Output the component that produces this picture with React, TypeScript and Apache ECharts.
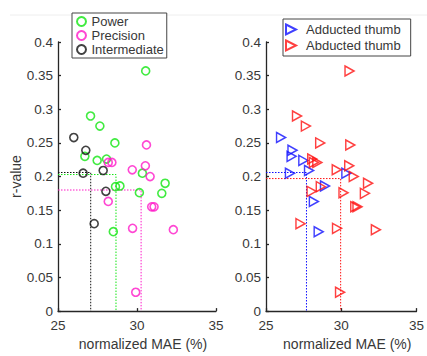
import React, { useEffect, useRef } from "react";
import * as echarts from "echarts";

// normalized MAE (%) for each subject/condition
const maeValues = [
  30.55, 27.06, 27.65, 28.6, 26.7, 27.48, 28.07, 30.34, 31.78, 28.64, 28.92, 30.15, 31.57, 28.5,
  30.6, 28.18, 28.41, 29.7, 30.53, 30.83, 28.18, 30.93, 31.08, 29.72, 32.3, 29.92,
  26.0, 26.76, 27.86, 26.59, 28.03, 27.29,
];
// r-values
const rValues = [
  0.357, 0.29, 0.275, 0.25, 0.23, 0.224, 0.226, 0.205, 0.19, 0.185, 0.186, 0.176, 0.175, 0.118,
  0.247, 0.221, 0.221, 0.21, 0.216, 0.2, 0.163, 0.155, 0.155, 0.123, 0.121, 0.028,
  0.258, 0.239, 0.209, 0.205, 0.178, 0.13,
];
// grip type of each point
const gripTypes = [
  "Power", "Power", "Power", "Power", "Power", "Power", "Power", "Power", "Power", "Power", "Power", "Power", "Power", "Power",
  "Precision", "Precision", "Precision", "Precision", "Precision", "Precision", "Precision", "Precision", "Precision", "Precision", "Precision", "Precision",
  "Intermediate", "Intermediate", "Intermediate", "Intermediate", "Intermediate", "Intermediate",
];
// thumb position of each point
const thumbTypes = [
  "Abducted thumb", "Abducted thumb", "Abducted thumb", "Abducted thumb", "Adducted thumb", "Adducted thumb", "Abducted thumb", "Adducted thumb", "Abducted thumb", "Abducted thumb", "Adducted thumb", "Abducted thumb", "Abducted thumb", "Adducted thumb",
  "Abducted thumb", "Abducted thumb", "Abducted thumb", "Abducted thumb", "Abducted thumb", "Abducted thumb", "Adducted thumb", "Abducted thumb", "Abducted thumb", "Abducted thumb", "Abducted thumb", "Abducted thumb",
  "Adducted thumb", "Adducted thumb", "Adducted thumb", "Adducted thumb", "Abducted thumb", "Abducted thumb",
];

const gripNames = ["Power", "Precision", "Intermediate"];
const gripColors = ["#12e612", "#ff19c8", "#111111"];
const gripMeanMae = [28.67, 30.26, 27.07];
const gripMeanR = [0.203, 0.18, 0.206];

const thumbNames = ["Adducted thumb", "Abducted thumb"];
const thumbColors = ["#1010ff", "#ff1010"];
const thumbMeanMae = [27.69, 29.96];
const thumbMeanR = [0.206, 0.197];

const xTicks = [25, 30, 35];
const yMax = 0.4;

const FONT = "Liberation Sans, Arial, sans-serif";
const TEXT = "#383838";
const AXIS = "#262626";
const TRI = "path://M0,0L10,5L0,10Z";

export default function App() {
  const ref = useRef<HTMLDivElement>(null);
  useEffect(() => {
    if (!ref.current) return;
    const chart = echarts.init(ref.current, undefined, { renderer: "svg" });

    const pts = (filter: (i: number) => boolean) =>
      maeValues.map((x, i) => [x, rValues[i]]).filter((_, i) => filter(i));

    const xAxisBase = (gridIndex: number) => ({
      gridIndex,
      type: "value",
      min: xTicks[0],
      max: xTicks[xTicks.length - 1],
      interval: 5,
      name: "normalized MAE (%)",
      nameLocation: "middle",
      nameGap: 20,
      nameTextStyle: { fontSize: 14, color: TEXT, fontFamily: FONT, padding: [0, 0, 0, 12] },
      axisLine: { show: true, onZero: false, lineStyle: { color: AXIS, width: 1.3 } },
      axisTick: { show: true, inside: true, length: 3, lineStyle: { color: AXIS, width: 1.3 } },
      axisLabel: { fontSize: 13.5, color: TEXT, fontFamily: FONT, margin: 7 },
      splitLine: { show: false },
    });
    const yAxisBase = (gridIndex: number, withName: boolean) => ({
      gridIndex,
      type: "value",
      min: 0,
      max: yMax,
      interval: 0.05,
      name: withName ? "r-value" : "",
      nameLocation: "middle",
      nameGap: 34,
      nameTextStyle: { fontSize: 14, color: TEXT, fontFamily: FONT },
      axisLine: { show: true, onZero: false, lineStyle: { color: AXIS, width: 1.3 } },
      axisTick: { show: true, inside: true, length: 3, lineStyle: { color: AXIS, width: 1.3 } },
      axisLabel: { fontSize: 13.5, color: TEXT, fontFamily: FONT, margin: 5 },
      splitLine: { show: false },
    });

    const meanLine = (name: string, axis: number, mx: number, my: number, color: string) => ({
      name,
      type: "line",
      xAxisIndex: axis,
      yAxisIndex: axis,
      data: [[xTicks[0], my], [mx, my], [mx, 0]],
      symbol: "none",
      silent: true,
      z: 1,
      lineStyle: { type: [1.5, 1.5], width: 1, color },
    });

    const series: any[] = [];
    gripNames.forEach((g, k) => {
      series.push(meanLine("mean " + g, 0, gripMeanMae[k], gripMeanR[k], gripColors[k]));
    });
    thumbNames.forEach((t, k) => {
      series.push(meanLine("mean " + t, 1, thumbMeanMae[k], thumbMeanR[k], thumbColors[k]));
    });
    gripNames.forEach((g, k) => {
      series.push({
        name: g,
        type: "scatter",
        xAxisIndex: 0,
        yAxisIndex: 0,
        symbol: "circle",
        symbolSize: 8,
        z: 3,
        data: pts((i) => gripTypes[i] === g),
        itemStyle: { color: "rgba(0,0,0,0)", borderColor: gripColors[k], borderWidth: 1.6 },
      });
    });
    thumbNames.forEach((t, k) => {
      series.push({
        name: t,
        type: "scatter",
        xAxisIndex: 1,
        yAxisIndex: 1,
        symbol: TRI,
        symbolSize: [9, 10],
        z: 3,
        data: pts((i) => thumbTypes[i] === t),
        itemStyle: { color: "rgba(0,0,0,0)", borderColor: thumbColors[k], borderWidth: 1.5 },
      });
    });

    chart.setOption({
      animation: false,
      backgroundColor: "#ffffff",
      grid: [
        { left: 58, top: 42, width: 158, height: 274 },
        { left: 266, top: 42, width: 158, height: 274 },
      ],
      xAxis: [xAxisBase(0), xAxisBase(1)],
      yAxis: [yAxisBase(0, true), yAxisBase(1, false)],
      legend: [
        {
          data: gripNames,
          orient: "vertical",
          left: 72,
          top: 13,
          itemWidth: 10,
          itemHeight: 9,
          itemGap: 1,
          padding: [2, 3, 2, 4],
          borderColor: "#444",
          borderWidth: 1,
          backgroundColor: "#fff",
          textStyle: { fontSize: 13, color: TEXT, fontFamily: FONT },
          selectedMode: false,
        },
        {
          data: thumbNames,
          orient: "vertical",
          left: 283,
          top: 19,
          itemWidth: 20,
          itemHeight: 10,
          itemGap: 3,
          padding: [4, 10, 4, 2],
          borderColor: "#444",
          borderWidth: 1,
          backgroundColor: "#fff",
          textStyle: { fontSize: 13, color: TEXT, fontFamily: FONT },
          selectedMode: false,
        },
      ],
      graphic: [
        {
          type: "line",
          shape: { x1: 10, y1: 15, x2: 427, y2: 15 },
          style: { stroke: "#eeeeee", lineWidth: 1 },
          z: -1,
        },
      ],
      series,
    });
    return () => chart.dispose();
  }, []);
  return <div ref={ref} style={{ width: 427, height: 356, position: "absolute", left: 0, top: 0 }} />;
}
